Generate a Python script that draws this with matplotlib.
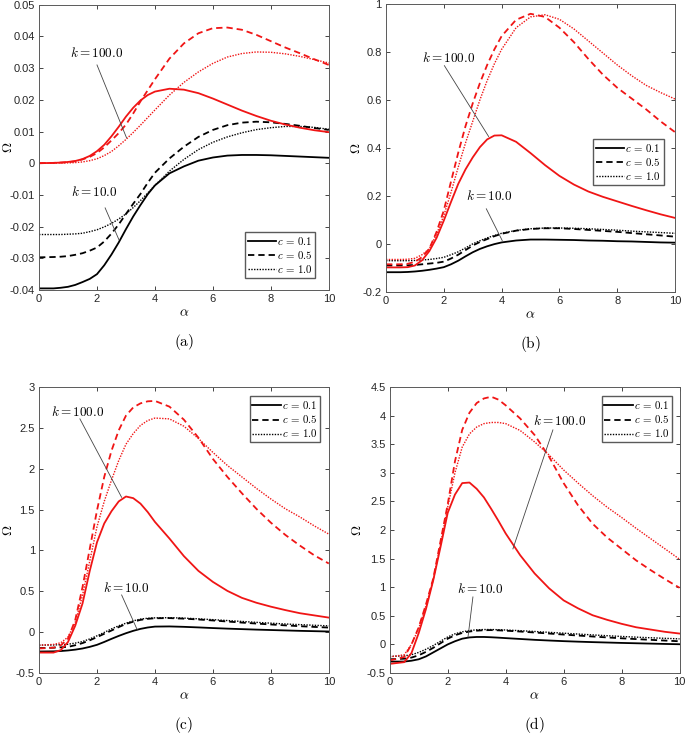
import matplotlib
matplotlib.use("Agg")
import matplotlib.pyplot as plt
from matplotlib.lines import Line2D
from matplotlib.ticker import FuncFormatter

plt.rcParams['mathtext.fontset'] = 'cm'
plt.rcParams['font.family'] = ['Liberation Sans', 'DejaVu Sans']
plt.rcParams['axes.unicode_minus'] = False

alpha = [0, 0.5, 0.75, 1, 1.25, 1.5, 1.75, 2, 2.25, 2.5, 2.75, 3, 3.25, 3.5, 3.75, 4,
         4.5, 5, 5.5, 6, 6.5, 7, 7.5, 8, 8.5, 9, 9.5, 10]
c_labels = [r'$c\,{=}\,0.1$', r'$c\,{=}\,0.5$', r'$c\,{=}\,1.0$']

# panel (a)
a_k10_c01 = [-0.0395, -0.0395, -0.0393, -0.039, -0.0384, -0.0375, -0.0365, -0.035, -0.0322, -0.0288, -0.025,
             -0.0208, -0.0168, -0.0132, -0.0098, -0.007, -0.0032, -0.001, 0.0008, 0.0018, 0.0024, 0.0026,
             0.0026, 0.0025, 0.0023, 0.0021, 0.0019, 0.0017]
a_k10_c05 = [-0.0297, -0.0296, -0.0295, -0.0293, -0.0289, -0.0284, -0.0276, -0.0266, -0.0247, -0.0222, -0.0193,
             -0.016, -0.0128, -0.0097, -0.0062, -0.003, 0.0015, 0.0052, 0.0083, 0.0105, 0.012, 0.0128,
             0.0131, 0.0129, 0.0124, 0.0118, 0.0111, 0.0105]
a_k10_c10 = [-0.0225, -0.0225, -0.0225, -0.0224, -0.0223, -0.0221, -0.0216, -0.021, -0.0201, -0.019, -0.0176,
             -0.016, -0.014, -0.0118, -0.0094, -0.007, -0.0025, 0.0012, 0.0043, 0.0066, 0.0083, 0.0096,
             0.0106, 0.0112, 0.0116, 0.0116, 0.0113, 0.0107]
a_k100_c01 = [0, 0.0001, 0.0002, 0.0004, 0.0007, 0.0013, 0.0023, 0.0038, 0.0058, 0.0085, 0.0115,
              0.0147, 0.0175, 0.0198, 0.0215, 0.0226, 0.0235, 0.0232, 0.0221, 0.0204, 0.0185, 0.0166,
              0.0149, 0.0134, 0.0122, 0.0112, 0.0104, 0.0098]
a_k100_c05 = [0, 0.0001, 0.0002, 0.0003, 0.0006, 0.0012, 0.002, 0.0032, 0.005, 0.0072, 0.0095,
              0.0122, 0.0157, 0.0195, 0.023, 0.0265, 0.033, 0.0378, 0.041, 0.0426, 0.0428, 0.0421,
              0.0405, 0.0385, 0.0365, 0.0347, 0.0328, 0.031]
a_k100_c10 = [0, 0, 0.0001, 0.0001, 0.0002, 0.0004, 0.0008, 0.0014, 0.0024, 0.0037, 0.0055,
              0.0075, 0.0097, 0.012, 0.0144, 0.0168, 0.0215, 0.0255, 0.0288, 0.0315, 0.0335, 0.0346,
              0.0351, 0.035, 0.0345, 0.0337, 0.0327, 0.0316]

# panel (b)
b_k10_c01 = [-0.118, -0.118, -0.117, -0.115, -0.112, -0.108, -0.103, -0.097, -0.085, -0.07, -0.052,
             -0.035, -0.021, -0.01, -0.001, 0.006, 0.014, 0.018, 0.018, 0.017, 0.016, 0.014,
             0.013, 0.011, 0.01, 0.008, 0.006, 0.005]
b_k10_c05 = [-0.09, -0.09, -0.089, -0.088, -0.085, -0.082, -0.079, -0.074, -0.061, -0.045, -0.026,
             -0.007, 0.008, 0.02, 0.032, 0.042, 0.055, 0.062, 0.065, 0.065, 0.062, 0.058,
             0.054, 0.05, 0.045, 0.04, 0.035, 0.03]
b_k10_c10 = [-0.07, -0.07, -0.07, -0.069, -0.067, -0.065, -0.061, -0.056, -0.045, -0.033, -0.017,
             0.0, 0.013, 0.025, 0.035, 0.044, 0.056, 0.063, 0.066, 0.066, 0.065, 0.063,
             0.06, 0.057, 0.053, 0.05, 0.047, 0.044]
b_k100_c01 = [-0.098, -0.098, -0.097, -0.09, -0.068, -0.03, 0.025, 0.097, 0.175, 0.25, 0.31,
              0.36, 0.403, 0.435, 0.451, 0.452, 0.425, 0.378, 0.328, 0.283, 0.247, 0.218,
              0.196, 0.177, 0.158, 0.14, 0.123, 0.108]
b_k100_c05 = [-0.085, -0.085, -0.083, -0.075, -0.055, -0.02, 0.05, 0.139, 0.26, 0.38, 0.49,
              0.585, 0.67, 0.745, 0.81, 0.865, 0.933, 0.958, 0.945, 0.9, 0.84, 0.77,
              0.705, 0.65, 0.605, 0.56, 0.51, 0.465]
b_k100_c10 = [-0.065, -0.065, -0.064, -0.06, -0.045, -0.02, 0.04, 0.118, 0.215, 0.32, 0.42,
              0.51, 0.6, 0.68, 0.75, 0.81, 0.9, 0.945, 0.954, 0.935, 0.895, 0.845,
              0.795, 0.745, 0.7, 0.66, 0.63, 0.603]

# panel (c)
c_k10_c01 = [-0.237, -0.235, -0.231, -0.224, -0.214, -0.2, -0.18, -0.155, -0.12, -0.082, -0.046,
             -0.013, 0.016, 0.04, 0.057, 0.068, 0.07, 0.065, 0.058, 0.05, 0.043, 0.037,
             0.031, 0.026, 0.021, 0.016, 0.012, 0.008]
c_k10_c05 = [-0.195, -0.19, -0.186, -0.18, -0.16, -0.134, -0.1, -0.061, -0.02, 0.02, 0.062,
             0.1, 0.128, 0.15, 0.163, 0.17, 0.172, 0.165, 0.155, 0.143, 0.13, 0.117,
             0.105, 0.094, 0.083, 0.073, 0.064, 0.056]
c_k10_c10 = [-0.159, -0.157, -0.153, -0.148, -0.134, -0.115, -0.083, -0.045, -0.003, 0.04, 0.078,
             0.11, 0.138, 0.16, 0.17, 0.175, 0.177, 0.172, 0.163, 0.153, 0.142, 0.131,
             0.12, 0.11, 0.1, 0.092, 0.084, 0.077]
c_k100_c01 = [-0.25, -0.25, -0.22, -0.12, 0.08, 0.35, 0.75, 1.1, 1.33, 1.48, 1.6,
              1.66, 1.64, 1.573, 1.47, 1.349, 1.146, 0.93, 0.75, 0.615, 0.505, 0.42,
              0.36, 0.312, 0.27, 0.232, 0.205, 0.178]
c_k100_c05 = [-0.2, -0.19, -0.16, -0.08, 0.15, 0.55, 1.02, 1.49, 1.9, 2.22, 2.47,
              2.65, 2.75, 2.8, 2.825, 2.83, 2.76, 2.6, 2.38, 2.12, 1.9, 1.7,
              1.51, 1.34, 1.19, 1.06, 0.94, 0.84]
c_k100_c10 = [-0.16, -0.15, -0.13, -0.06, 0.12, 0.45, 0.87, 1.29, 1.6, 1.86, 2.1,
              2.3, 2.43, 2.53, 2.59, 2.62, 2.61, 2.52, 2.37, 2.2, 2.04, 1.9,
              1.76, 1.63, 1.51, 1.41, 1.3, 1.2]

# panel (d)
d_k10_c01 = [-0.3, -0.3, -0.285, -0.26, -0.21, -0.14, -0.07, 0.0, 0.055, 0.1, 0.122,
             0.13, 0.13, 0.125, 0.118, 0.11, 0.095, 0.08, 0.068, 0.057, 0.048, 0.04,
             0.033, 0.026, 0.02, 0.014, 0.008, 0.003]
d_k10_c05 = [-0.26, -0.25, -0.23, -0.19, -0.13, -0.06, 0.02, 0.1, 0.16, 0.2, 0.225,
             0.24, 0.248, 0.25, 0.246, 0.24, 0.225, 0.208, 0.19, 0.172, 0.155, 0.138,
             0.122, 0.107, 0.093, 0.08, 0.067, 0.055]
d_k10_c10 = [-0.21, -0.2, -0.18, -0.14, -0.085, -0.02, 0.055, 0.13, 0.185, 0.22, 0.243,
             0.255, 0.26, 0.26, 0.257, 0.252, 0.24, 0.226, 0.211, 0.196, 0.181, 0.166,
             0.152, 0.139, 0.127, 0.116, 0.106, 0.097]
d_k100_c01 = [-0.34, -0.31, -0.15, 0.2, 0.62, 1.12, 1.7, 2.3, 2.62, 2.82, 2.83,
              2.72, 2.57, 2.37, 2.16, 1.94, 1.56, 1.24, 0.98, 0.77, 0.63, 0.51,
              0.43, 0.36, 0.3, 0.26, 0.22, 0.19]
d_k100_c05 = [-0.28, -0.22, 0.0, 0.3, 0.7, 1.15, 1.8, 2.45, 3.2, 3.75, 4.05,
              4.22, 4.3, 4.33, 4.28, 4.18, 3.95, 3.66, 3.28, 2.82, 2.43, 2.11,
              1.87, 1.67, 1.47, 1.3, 1.14, 0.99]
d_k100_c10 = [-0.22, -0.18, 0.0, 0.28, 0.68, 1.13, 1.75, 2.4, 3.0, 3.45, 3.68,
              3.8, 3.86, 3.88, 3.88, 3.86, 3.74, 3.54, 3.31, 3.05, 2.82, 2.6,
              2.4, 2.22, 2.03, 1.85, 1.67, 1.49]

panels = [
    dict(k10=[a_k10_c01, a_k10_c05, a_k10_c10], k100=[a_k100_c01, a_k100_c05, a_k100_c10],
         ylim=(-0.04, 0.05), yticks=[-0.04, -0.03, -0.02, -0.01, 0, 0.01, 0.02, 0.03, 0.04, 0.05],
         t100=(1.99, 0.0349), l100=[(2.0, 0.031), (3.02, 0.008)],
         t10=(1.91, -0.0092), l10=[(2.28, -0.0141), (2.76, -0.0242)],
         leg=('lower right', (0.954, 0.043)), name='(a)', ylab_x=-0.082,
         rect=[0.057, 0.6076, 0.423, 0.386]),
    dict(k10=[b_k10_c01, b_k10_c05, b_k10_c10], k100=[b_k100_c01, b_k100_c05, b_k100_c10],
         ylim=(-0.2, 1.0), yticks=[-0.2, 0, 0.2, 0.4, 0.6, 0.8, 1],
         t100=(2.15, 0.774), l100=[(2.02, 0.742), (3.55, 0.447)],
         t10=(3.58, 0.2), l10=[(3.47, 0.146), (4.02, 0.014)],
         leg=('upper right', (0.96, 0.53)), name='(b)', ylab_x=-0.08,
         rect=[0.5635, 0.605, 0.422, 0.39]),
    dict(k10=[c_k10_c01, c_k10_c05, c_k10_c10], k100=[c_k100_c01, c_k100_c05, c_k100_c10],
         ylim=(-0.5, 3.0), yticks=[-0.5, 0, 0.5, 1, 1.5, 2, 2.5, 3],
         t100=(1.32, 2.69), l100=[(1.41, 2.61), (2.85, 1.65)],
         t10=(3.02, 0.545), l10=[(2.85, 0.455), (3.39, 0.028)],
         leg=('upper right', (0.971, 0.967)), name='(c)', ylab_x=-0.082,
         rect=[0.057, 0.0893, 0.423, 0.387]),
    dict(k10=[d_k10_c01, d_k10_c05, d_k10_c10], k100=[d_k100_c01, d_k100_c05, d_k100_c10],
         ylim=(-0.5, 4.5), yticks=[-0.5, 0, 0.5, 1, 1.5, 2, 2.5, 3, 3.5, 4, 4.5],
         t100=(5.86, 3.906), l100=[(5.63, 3.75), (4.25, 1.67)],
         t10=(3.13, 0.975), l10=[(2.87, 0.83), (2.7, 0.13)],
         leg=('upper right', (0.975, 0.967)), name='(d)', ylab_x=-0.09,
         rect=[0.569, 0.0893, 0.423, 0.387]),
]

styles = [dict(ls='-', lw=1.3), dict(ls=(0, (3.5, 2.2)), lw=1.3), dict(ls=(0, (1, 1)), lw=1.0)]
spine_col = '#5a5a5a'
red = '#f01515'

fig = plt.figure(figsize=(6.85, 7.39), dpi=100)
fmt = FuncFormatter(lambda v, p: f'{round(v, 6):g}')

for p in panels:
    ax = fig.add_axes(p['rect'])
    for vals, st in zip(p['k10'], styles):
        ax.plot(alpha, vals, color='black', **st)
    for vals, st in zip(p['k100'], styles):
        ax.plot(alpha, vals, color=red, **st)

    ax.set_xlim(0, 10)
    ax.set_ylim(*p['ylim'])
    ax.set_xticks([0, 2, 4, 6, 8, 10])
    ax.set_yticks(p['yticks'])
    ax.xaxis.set_major_formatter(fmt)
    ax.yaxis.set_major_formatter(fmt)
    ax.tick_params(direction='in', length=3, width=0.6, top=True, right=True,
                   labelsize=8, colors='#262626', pad=3)
    for s in ax.spines.values():
        s.set_color(spine_col)
        s.set_linewidth(0.7)

    ax.set_xlabel(r'$\alpha$', fontsize=10, labelpad=1)
    ax.set_ylabel(r'$\Omega$', fontsize=10)
    ax.yaxis.set_label_coords(p['ylab_x'], 0.5)

    for (tx, ty), ln, lab in [(p['t100'], p['l100'], '$k = 100.0$'), (p['t10'], p['l10'], '$k = 10.0$')]:
        ax.text(tx, ty, lab, ha='center', va='center', fontsize=9.5)
        ax.plot([ln[0][0], ln[1][0]], [ln[0][1], ln[1][1]], color='#444444', lw=0.6)

    handles = [Line2D([], [], color='black', **st) for st in styles]
    ax.legend(handles, c_labels, loc=p['leg'][0], bbox_to_anchor=p['leg'][1], borderaxespad=0,
              fontsize=7.8, handlelength=2.6, handletextpad=0.15, labelspacing=0.2,
              borderpad=0.25, fancybox=False, framealpha=1, edgecolor=spine_col)

    r = p['rect']
    fig.text(r[0] + r[2] / 2, r[1] - 0.071, r'$\mathrm{' + p['name'] + '}$', ha='center', va='center', fontsize=11)

fig.savefig('out.png', dpi=100)
